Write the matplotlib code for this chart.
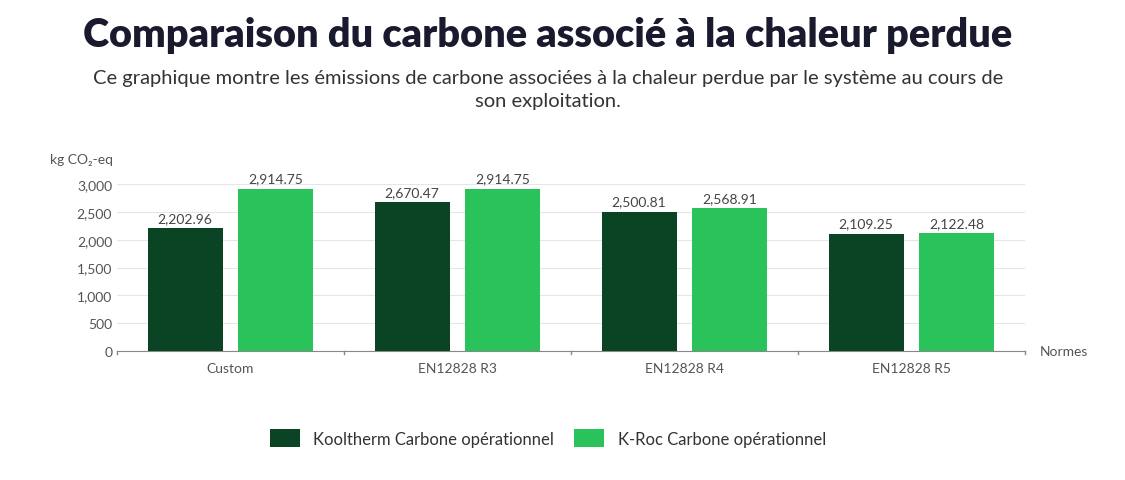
import matplotlib
matplotlib.use("Agg")
import matplotlib.pyplot as plt
import numpy as np

categories = ["Custom", "EN12828 R3", "EN12828 R4", "EN12828 R5"]
kooltherm = [2202.96, 2670.47, 2500.81, 2109.25]
kroc = [2914.75, 2914.75, 2568.91, 2122.48]
series_names = ["Kooltherm Carbone opérationnel", "K-Roc Carbone opérationnel"]
c_dark = "#0b4424"
c_light = "#29c25b"

plt.rcParams['font.family'] = ['Lato', 'DejaVu Sans']
fig = plt.figure(figsize=(11.25, 4.81), dpi=100)
ax = fig.add_axes([117/1125, 1-352/481, 908/1125, (352-185)/481])
x = np.arange(len(categories))
w = 0.33
b1 = ax.bar(x - 0.2, kooltherm, w, color=c_dark, label=series_names[0], zorder=3)
b2 = ax.bar(x + 0.2, kroc, w, color=c_light, label=series_names[1], zorder=3)
for bars in (b1, b2):
    ax.bar_label(bars, labels=[f"{v:,.2f}" for v in bars.datavalues], padding=3,
                 fontsize=10, color="#444444")
ax.set_xlim(-0.5, 3.5)
ax.set_ylim(0, 3000)
ax.set_yticks(range(0, 3001, 500))
ax.set_yticklabels([f"{v:,}" for v in range(0, 3001, 500)], fontsize=10, color="#555555")
ax.grid(axis="y", color="#e6e6e6", zorder=0)
ax.set_xticks(x)
ax.set_xticklabels(categories, fontsize=10, color="#555555")
ax.tick_params(axis="x", length=0, pad=8)
ax.tick_params(axis="y", length=0)
for b in [-0.5, 0.5, 1.5, 2.5, 3.5]:
    ax.plot([b, b], [0, -60], color="#888888", lw=1, clip_on=False)
for s in ["top", "right", "left"]:
    ax.spines[s].set_visible(False)
ax.spines["bottom"].set_color("#888888")
fig.text(1040/1125, 1-352/481, "Normes", fontsize=10, color="#555555", va="center")
fig.text(50/1125, 1-160/481, "kg CO₂-eq", fontsize=10, color="#555555", va="center")
fig.text(548/1125, 1-35/481, "Comparaison du carbone associé à la chaleur perdue",
         fontsize=28.5, fontweight="heavy", color="#1a1a2e", ha="center", va="center")
fig.text(548/1125, 1-90/481, "Ce graphique montre les émissions de carbone associées à la chaleur perdue par le système au cours de\nson exploitation.",
         fontsize=14.5, color="#333333", ha="center", va="center", linespacing=1.45)
fig.legend(loc="center", bbox_to_anchor=(548/1125, 1-439/481), ncol=2, frameon=False,
           fontsize=12, handlelength=1.8, handleheight=1.2, columnspacing=1.2,
           labelcolor="#333333")
fig.savefig("out.png", dpi=100, facecolor="white")
